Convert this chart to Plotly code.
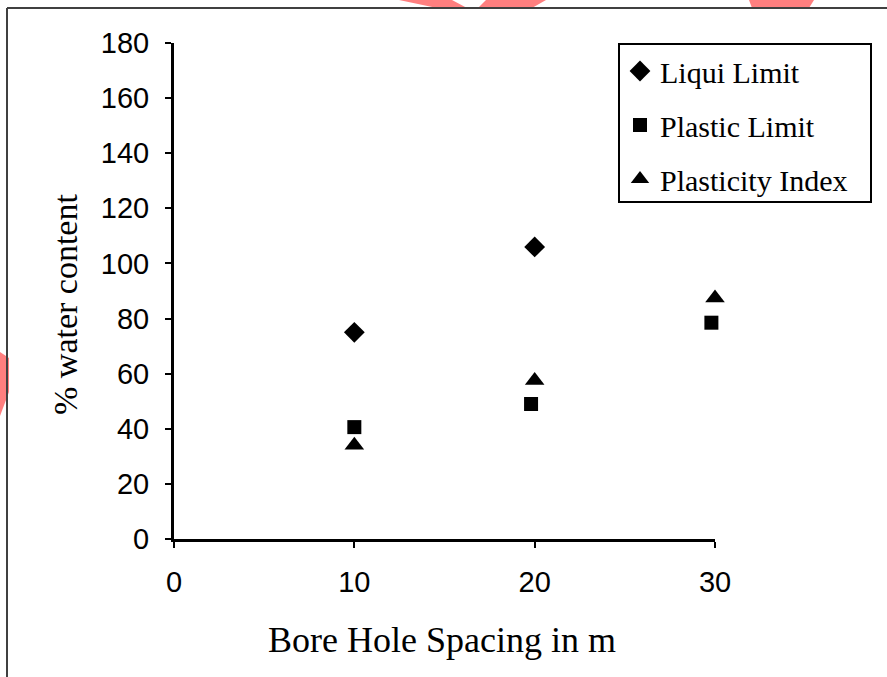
import plotly.graph_objects as go

# ---- data ----
series_names = ["Liqui Limit", "Plastic Limit", "Plasticity Index"]
liquid_x = [10, 20]
liquid_y = [75, 106]
plastic_x = [10, 19.8, 29.8]
plastic_y = [40.6, 49, 78.5]
pi_x = [10, 20, 30]
pi_y = [34, 57.5, 87.5]
x_ticks = [0, 10, 20, 30]
y_ticks = [0, 20, 40, 60, 80, 100, 120, 140, 160, 180]
x_title = "Bore Hole Spacing in m"
y_title = "% water content"

W, H = 887, 677
L, R, T, B = 174, 172, 43, 138
PW, PH = W - L - R, H - T - B

def px(x):
    return (x - L) / PW

def py(y):
    return (H - B - y) / PH

fig = go.Figure()
symbols = ["diamond", "square", "triangle-up"]
sizes = [16, 14, 17]
for i, (nm, xs, ys) in enumerate(zip(series_names, [liquid_x, plastic_x, pi_x], [liquid_y, plastic_y, pi_y])):
    fig.add_trace(go.Scatter(
        x=xs, y=ys, mode="markers", name=nm, legendgroup=nm,
        marker=dict(symbol=symbols[i], size=sizes[i], color="black", line=dict(width=0)),
        cliponaxis=False,
    ))

serif = "Liberation Serif, Times New Roman, serif"
sans = "Liberation Sans, Arial, sans-serif"

fig.update_layout(
    width=W, height=H,
    margin=dict(l=L, r=R, t=T, b=B),
    paper_bgcolor="white", plot_bgcolor="white",
    showlegend=True,
    legend=dict(
        x=px(620), y=py(45), xanchor="left", yanchor="top",
        font=dict(family=serif, size=30, color="black"),
        borderwidth=0, bgcolor="rgba(0,0,0,0)",
        tracegroupgap=12,
    ),
    xaxis=dict(
        range=[0, 30], tickvals=x_ticks, ticktext=[str(v) for v in x_ticks],
        showgrid=False, zeroline=False, showline=True, linecolor="black", linewidth=3,
        ticks="outside", ticklen=6, tickwidth=2, tickcolor="black",
        tickfont=dict(family=sans, size=29, color="black"),
        ticklabelstandoff=9,
    ),
    yaxis=dict(
        range=[0, 180], tickvals=y_ticks, ticktext=[str(v) for v in y_ticks],
        showgrid=False, zeroline=False, showline=True, linecolor="black", linewidth=3,
        ticks="outside", ticklen=6, tickwidth=2, tickcolor="black",
        tickfont=dict(family=sans, size=29, color="black"),
        ticklabelstandoff=10,
    ),
    annotations=[
        dict(text=x_title, xref="paper", yref="paper", x=px(442), y=py(640),
             xanchor="center", yanchor="middle", showarrow=False,
             font=dict(family=serif, size=36, color="black")),
        dict(text=y_title, xref="paper", yref="paper", x=px(65), y=py(305),
             xanchor="center", yanchor="middle", showarrow=False, textangle=-90,
             font=dict(family=serif, size=34, color="black")),
    ],
)

def path(points):
    s = "M " + " L ".join(f"{px(a)},{py(b)}" for a, b in points) + " Z"
    return s

shapes = []
# watermark fragments
red = "#ff7f7f"
for pts in [
    [(399, 0), (452, 0), (467, 8), (437, 8)],
    [(486, 0), (546, 0), (532, 8), (478, 8)],
    [(749, 0), (814, 0), (809, 8), (752, 8)],
    [(0, 352), (9, 358), (9, 392), (0, 416)],
]:
    shapes.append(dict(type="path", xref="paper", yref="paper", path=path(pts),
                       fillcolor=red, line=dict(width=0), layer="below"))
# outer frame
shapes.append(dict(type="line", xref="paper", yref="paper", x0=px(7), y0=py(8), x1=px(887), y1=py(8),
                   line=dict(color="#404040", width=2)))
shapes.append(dict(type="line", xref="paper", yref="paper", x0=px(7), y0=py(8), x1=px(7), y1=py(677),
                   line=dict(color="#404040", width=2)))
# legend frame
shapes.append(dict(type="rect", xref="paper", yref="paper", x0=px(619), y0=py(44), x1=px(871), y1=py(202),
                   line=dict(color="black", width=2), fillcolor="white", layer="below"))
fig.update_layout(shapes=shapes)

fig.write_html("out.html")
